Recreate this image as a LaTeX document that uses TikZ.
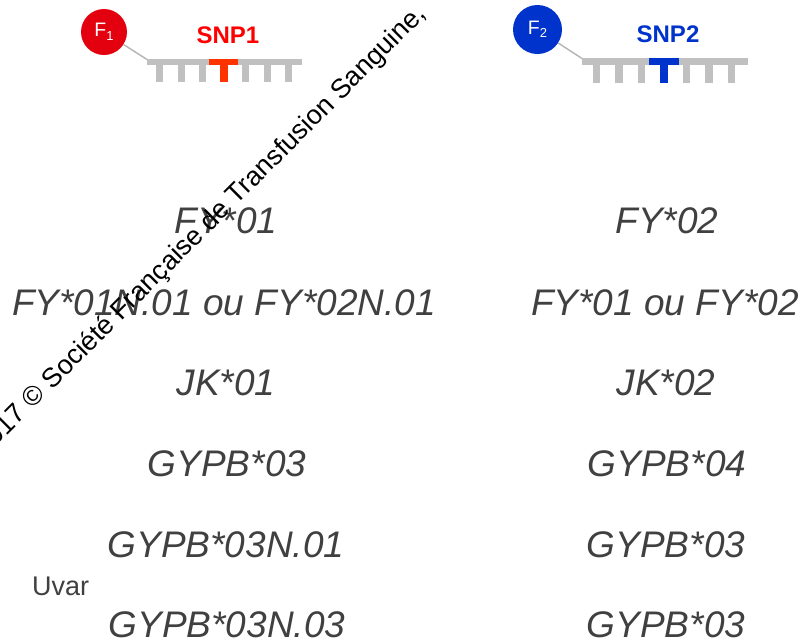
\documentclass[tikz,border=0pt]{standalone}
\usepackage{fontspec}
\setmainfont{Liberation Sans}
\definecolor{txt}{HTML}{404040}
\definecolor{snpred}{HTML}{FF0000}
\definecolor{tred}{HTML}{FF3300}
\definecolor{ballred}{HTML}{E3000F}
\definecolor{blu}{HTML}{0033CC}
\definecolor{bbgrey}{HTML}{C0C0C0}
\definecolor{linegrey}{HTML}{B4B4B4}
\begin{document}
\begin{tikzpicture}[x=1pt,y=-1pt,
  allele/.style={anchor=base, inner sep=0pt, text=txt, font=\fontsize{37}{42}\selectfont\itshape},
  snplabel/.style={anchor=base, inner sep=0pt, font=\fontsize{24}{28}\selectfont\bfseries},
  ball/.style={circle, draw=none, inner sep=0pt, text=white, font=\fontsize{19.5}{20}\selectfont},
  link/.style={draw=linegrey, line width=1.4pt},
  bar/.style={fill=bbgrey, draw=none}]
\useasboundingbox (0,0) rectangle (798,641);
\fill[white] (0,0) rectangle (798,641);

% ---------- SNP1 ----------
\node[ball, fill=ballred, minimum size=46pt] (f1) at (104,32) {F\raisebox{-3.5pt}{\fontsize{13}{13}\selectfont 1}};
\fill[bbgrey] (147,59.3) rectangle (302,65.3);
\coordinate (bb1) at (147,59.5);
\foreach \x in {159.5,181,202.5,245.5,267,288.5}
  \fill[bbgrey] (\x-3.5,65) rectangle (\x+3.5,81.7);
\fill[tred] (209,59.3) rectangle (238,65.3);
\fill[tred] (220,65) rectangle (228.3,81.7);
\draw[link] (f1) -- (bb1);
\node[snplabel, text=snpred] (snp1) at (228,43) {SNP1};

% ---------- SNP2 ----------
\node[ball, fill=blu, minimum size=49pt] (f2) at (537.5,29.5) {F\raisebox{-3.5pt}{\fontsize{13}{13}\selectfont 2}};
\fill[bbgrey] (582,58.3) rectangle (748,65);
\coordinate (bb2) at (582,58.5);
\foreach \x in {596.5,619,641.5,686.5,709,731.5}
  \fill[bbgrey] (\x-3.75,64.8) rectangle (\x+3.75,82.7);
\fill[blu] (649,58.3) rectangle (679,65);
\fill[blu] (660,64.8) rectangle (668,82.7);
\draw[link] (f2) -- (bb2);
\node[snplabel, text=blu] (snp2) at (668,42) {SNP2};

% ---------- alleles ----------
\node[allele] (l1) at (226,233) {FY*01};
\node[allele] (l2) at (224,315) {FY*01N.01 ou FY*02N.01};
\node[allele] (l3) at (226,395) {JK*01};
\node[allele] (l4) at (227,476) {GYPB*03};
\node[allele] (l5) at (226,557) {GYPB*03N.01};
\node[allele] (l6) at (227,637) {GYPB*03N.03};

\node[allele] (r1) at (667,233) {FY*02};
\node[allele] (r2) at (665,315) {FY*01 ou FY*02};
\node[allele] (r3) at (666,395) {JK*02};
\node[allele] (r4) at (667,476) {GYPB*04};
\node[allele] (r5) at (666,557) {GYPB*03};
\node[allele] (r6) at (666,637) {GYPB*03};

\node[anchor=base west, inner sep=0pt, text=txt, font=\fontsize{27}{30}\selectfont] (uvar) at (32,595) {Uvar};

% ---------- copyright ----------
\node[anchor=base west, inner sep=0pt, rotate=45, text=black, font=\fontsize{27}{30}\selectfont] (copy) at (-15,457.5) {2017 © Société Française de Transfusion Sanguine,};
\end{tikzpicture}
\end{document}
